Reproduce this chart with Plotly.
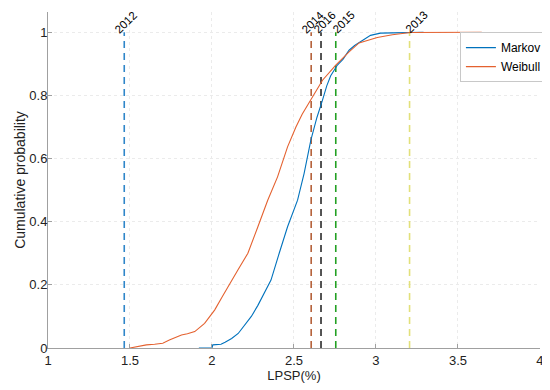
import plotly.graph_objects as go

markov_x = [1.92, 2.0, 2.005, 2.055, 2.08, 2.12, 2.16, 2.20, 2.24, 2.28, 2.32, 2.36, 2.41, 2.461, 2.522,
            2.562, 2.603, 2.64, 2.674, 2.70, 2.724, 2.765, 2.80, 2.836, 2.87, 2.906, 2.94, 2.967, 3.0,
            3.028, 3.10, 3.21, 3.29]
markov_y = [0, 0, 0.01, 0.012, 0.018, 0.03, 0.046, 0.075, 0.10, 0.135, 0.173, 0.215, 0.30, 0.384, 0.468,
            0.553, 0.658, 0.73, 0.785, 0.83, 0.862, 0.896, 0.915, 0.943, 0.958, 0.97, 0.983, 0.99, 0.994,
            0.997, 0.998, 1.0, 1.0]

weibull_x = [1.50, 1.55, 1.60, 1.65, 1.70, 1.74, 1.78, 1.814, 1.85, 1.895, 1.955, 2.016, 2.06, 2.097,
             2.158, 2.219, 2.25, 2.28, 2.34, 2.40, 2.461, 2.512, 2.55, 2.613, 2.674, 2.755, 2.80, 2.836,
             2.897, 2.95, 3.008, 3.10, 3.21, 3.645]
weibull_y = [0, 0.005, 0.01, 0.012, 0.015, 0.025, 0.035, 0.041, 0.045, 0.052, 0.078, 0.12, 0.16, 0.194,
             0.247, 0.30, 0.34, 0.384, 0.468, 0.542, 0.637, 0.70, 0.74, 0.795, 0.848, 0.896, 0.92, 0.938,
             0.966, 0.975, 0.983, 0.992, 0.999, 1.0]

year_labels = ["2012", "2014", "2016", "2015", "2013"]
year_x = [1.465, 2.605, 2.665, 2.755, 3.205]
year_colors = ["#2f86c9", "#b5613a", "#2b2b2b", "#23a023", "#e2e07a"]
label_xshift = [2, 2, 4, 8, 7]   # pixel nudges of the rotated year labels

x_ticks = [1, 1.5, 2, 2.5, 3, 3.5, 4]
y_ticks = [0, 0.2, 0.4, 0.6, 0.8, 1]

FONT = "Liberation Sans, Arial, sans-serif"

fig = go.Figure()
for lab, xv, col, xs in zip(year_labels, year_x, year_colors, label_xshift):
    fig.add_trace(go.Scatter(x=[xv, xv], y=[0, 1], mode="lines",
                             line=dict(color=col, width=1.6, dash="7px,5px"),
                             showlegend=False, hoverinfo="skip"))
    fig.add_annotation(x=xv, y=1, text=lab, showarrow=False, textangle=-45,
                       xanchor="center", yanchor="middle", xshift=xs, yshift=10,
                       font=dict(family=FONT, size=11.5, color="#000"))

fig.add_trace(go.Scatter(x=markov_x, y=markov_y, mode="lines", name="Markov",
                         line=dict(color="#0072BD", width=1.1)))
fig.add_trace(go.Scatter(x=weibull_x, y=weibull_y, mode="lines", name="Weibull",
                         line=dict(color="#E4612F", width=1.1)))

axis_common = dict(showline=True, linecolor="#a0a0a0", linewidth=1, ticks="inside", ticklen=4,
                   tickcolor="#a0a0a0", showgrid=True, gridcolor="#ebebeb", griddash="dot",
                   zeroline=False, tickfont=dict(family=FONT, size=13, color="#222"),
                   mirror=False, automargin=False, ticklabeloverflow="allow")

fig.update_xaxes(range=[1, 4.0005], tickvals=x_ticks, ticktext=[str(t) for t in x_ticks],
                 title_text="LPSP(%)", title_standoff=2,
                 title_font=dict(family=FONT, size=13, color="#222"), **axis_common)
fig.update_yaxes(range=[0, 1.064], tickvals=y_ticks, ticktext=[str(t) for t in y_ticks],
                 title_text="Cumulative probability", title_standoff=0, ticklabelstandoff=-3,
                 title_font=dict(family=FONT, size=14, color="#222"), **axis_common)

# page body has an 8px default margin, so the figure is 8px smaller and margins shifted
fig.update_layout(
    width=542, height=382, plot_bgcolor="white", paper_bgcolor="white",
    margin=dict(l=40, r=9, t=4, b=42),
    legend=dict(x=1.012, y=0.94, xanchor="right", yanchor="top", bgcolor="white",
                bordercolor="#c8c8c8", borderwidth=1, font=dict(family=FONT, size=12, color="#000"),
                tracegroupgap=0, itemwidth=30),
    showlegend=True,
)

fig.write_html("out.html")
